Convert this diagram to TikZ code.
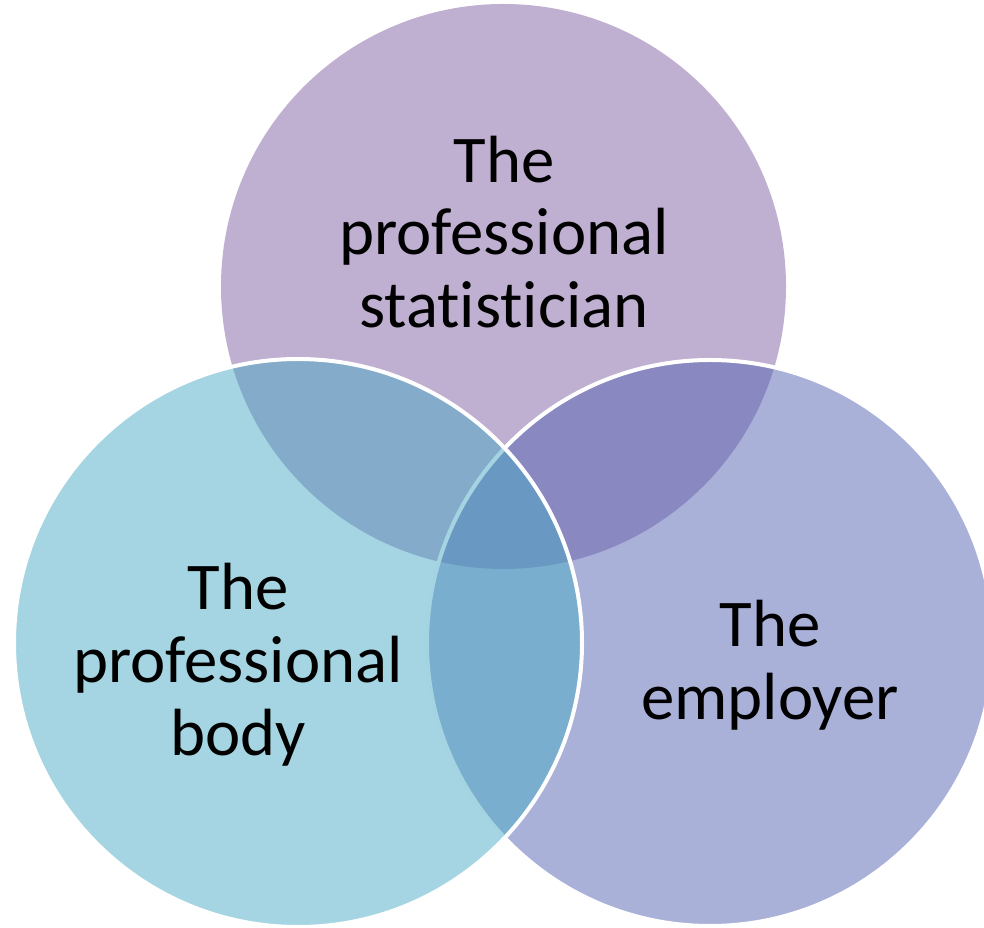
\documentclass[tikz,border=0pt]{standalone}
\usepackage{fontspec}
\setmainfont[Ligatures=NoCommon]{Carlito}
\begin{document}
\begin{tikzpicture}[x=0.02cm,y=-0.02cm,
  venntext/.style={font=\fontsize{38}{41.5}\selectfont,align=center,inner sep=0pt},
  ring/.style={draw=white,line width=0.08cm,fill opacity=0.5}]%
\useasboundingbox (0,0) rectangle (984,928);%
% circles, back to front
\fill[fill={rgb,255:red,191;green,175;blue,209}] (503.5,286.5) circle[radius=282.5];%
\filldraw[ring,fill={rgb,255:red,85;green,99;blue,177}] (710,643) circle[radius=283];%
\filldraw[ring,fill={rgb,255:red,75;green,171;blue,197}] (298,643) circle[radius=284];%
% labels
\node[venntext] (statistician) at (504,232) {The\\professional\\statistician};%
\node[venntext] (body) at (238,665) {The\\professional\\body};%
\node[venntext] (employer) at (770,665) {The\\employer};%
\end{tikzpicture}
\end{document}
